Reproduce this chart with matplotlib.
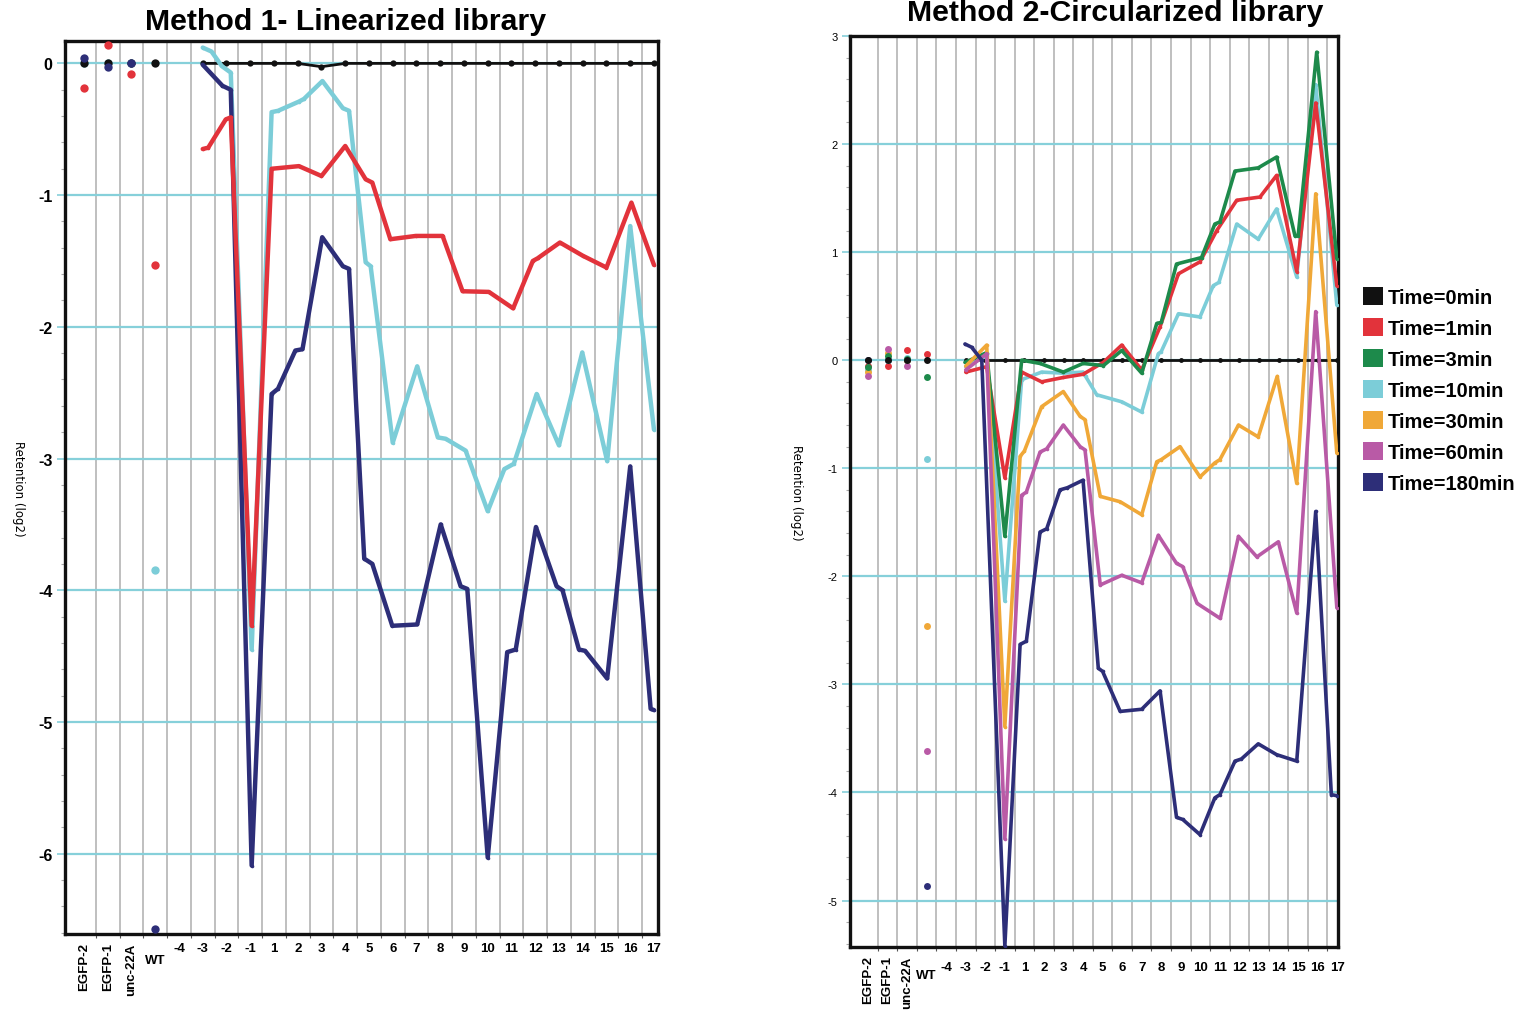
import matplotlib
matplotlib.use("Agg")
import matplotlib.pyplot as plt
from matplotlib.patches import Patch
from matplotlib.ticker import FixedLocator, MultipleLocator

plt.rcParams['font.family'] = ['Liberation Sans', 'DejaVu Sans']
plt.rcParams['axes.unicode_minus'] = False

# ---------------------------------------------------------------- categories
# x positions are category indices: 0-3 controls, 4..7 = sites -4..-1, 8..24 = sites 1..17
CATEGORIES = ['EGFP-2', 'EGFP-1', 'unc-22A', 'WT', '-4', '-3', '-2', '-1',
              '1', '2', '3', '4', '5', '6', '7', '8', '9', '10', '11', '12',
              '13', '14', '15', '16', '17']
CONTROL_X = [0, 1, 2, 3]
SITE_X = [5, 6, 7, 8, 9, 10, 11, 12, 13, 14, 15, 16, 17, 18, 19, 20, 21, 22, 23, 24]

SERIES = ['Time=0min', 'Time=1min', 'Time=3min', 'Time=10min',
          'Time=30min', 'Time=60min', 'Time=180min']
COLORS = ['#111111', '#e2333b', '#1d8a4b', '#7ccdd8', '#f0a838', '#b95aa6', '#2d2e78']

# ---------------------------------------------------------------- Method 1
m1_black_y = [0, 0, 0, 0, 0, -0.025, 0, 0, 0, 0, 0, 0, 0, 0, 0, 0, 0, 0, 0, 0]

m1_red_x = [5.0, 5.23, 5.97, 6.18, 7.06, 7.9, 9.05, 10.0, 11.0, 11.86, 12.14, 12.9,
            13.97, 15.1, 15.94, 17.05, 18.07, 18.9, 19.1, 20.04, 21.0, 22.0, 23.05, 24.0]
m1_red_y = [-0.65, -0.64, -0.425, -0.41, -4.27, -0.80, -0.78, -0.855, -0.627, -0.88,
            -0.905, -1.335, -1.31, -1.31, -1.73, -1.735, -1.86, -1.50, -1.48, -1.36,
            -1.46, -1.55, -1.057, -1.53]

m1_cyan_x = [5.0, 5.37, 5.8, 6.18, 7.06, 7.9, 8.17, 9.05, 9.26, 10.04, 10.9, 11.16,
             11.86, 12.07, 13.0, 14.03, 14.9, 15.23, 16.07, 17.0, 17.7, 18.1, 19.06,
             20.0, 20.98, 22.03, 23.0, 24.0]
m1_cyan_y = [0.12, 0.09, -0.02, -0.07, -4.45, -0.37, -0.36, -0.29, -0.27, -0.134,
             -0.34, -0.36, -1.51, -1.54, -2.88, -2.30, -2.84, -2.85, -2.94, -3.40,
             -3.08, -3.04, -2.51, -2.90, -2.195, -3.02, -1.235, -2.78]

m1_navy_x = [5.0, 5.83, 6.18, 7.06, 7.9, 8.17, 8.9, 9.2, 10.03, 10.9, 11.16, 11.8,
             12.14, 12.98, 14.03, 15.02, 15.86, 16.14, 17.0, 17.82, 18.18, 19.03, 19.9,
             20.15, 20.84, 21.1, 22.03, 23.0, 23.86, 24.0]
m1_navy_y = [-0.01, -0.17, -0.20, -6.09, -2.51, -2.47, -2.18, -2.17, -1.32, -1.54,
             -1.56, -3.76, -3.80, -4.27, -4.26, -3.50, -3.97, -3.99, -6.03, -4.47,
             -4.45, -3.52, -3.97, -4.00, -4.45, -4.46, -4.67, -3.06, -4.90, -4.91]

m1_ctrl_black = [0.0, 0.0, 0.0, 0.0]
m1_ctrl_red = [-0.19, 0.14, -0.08, -1.53]
m1_ctrl_cyan = [0.0, 0.0, 0.0, -3.85]
m1_ctrl_navy = [0.04, -0.03, 0.0, -6.57]

# ---------------------------------------------------------------- Method 2
m2_black_y = [0] * 20

m2_red_x = [5.0, 6.07, 7.0, 7.86, 8.88, 9.99, 11.0, 12.04, 12.98, 14.0, 14.94, 15.88,
            16.98, 17.84, 18.86, 20.05, 20.9, 21.93, 22.9, 23.98]
m2_red_y = [-0.11, -0.06, -1.09, -0.11, -0.20, -0.16, -0.13, -0.02, 0.14, -0.09, 0.31,
            0.80, 0.91, 1.20, 1.48, 1.51, 1.71, 0.82, 2.38, 0.69]

m2_green_x = [4.96, 6.07, 7.0, 7.86, 8.8, 9.99, 11.0, 12.04, 12.98, 14.0, 14.77, 15.0,
              15.78, 17.06, 17.74, 18.0, 18.77, 19.96, 20.9, 21.84, 22.0, 22.95, 23.98]
m2_green_y = [-0.02, 0.07, -1.63, 0.0, -0.03, -0.11, -0.03, -0.05, 0.09, -0.12, 0.34,
              0.35, 0.89, 0.95, 1.26, 1.28, 1.75, 1.78, 1.88, 1.15, 1.15, 2.85, 0.94]

m2_cyan_x = [5.0, 6.07, 7.0, 7.86, 8.88, 9.99, 11.0, 11.13, 11.7, 12.98, 14.0, 14.85,
             15.0, 15.88, 16.98, 17.66, 17.95, 18.86, 19.96, 20.9, 21.93, 22.9, 23.98]
m2_cyan_y = [-0.06, 0.04, -2.23, -0.18, -0.11, -0.12, -0.11, -0.15, -0.32, -0.385,
             -0.48, 0.06, 0.08, 0.43, 0.40, 0.69, 0.72, 1.26, 1.12, 1.40, 0.77, 2.55, 0.51]

m2_orange_x = [5.0, 6.07, 7.0, 7.78, 8.0, 8.88, 9.99, 10.85, 11.1, 11.88, 12.9, 14.0,
               14.77, 15.0, 15.96, 16.98, 17.74, 18.0, 18.95, 19.96, 20.93, 21.93,
               22.9, 23.98]
m2_orange_y = [-0.055, 0.14, -3.39, -0.89, -0.84, -0.43, -0.29, -0.52, -0.55, -1.26,
               -1.31, -1.43, -0.94, -0.92, -0.80, -1.08, -0.95, -0.92, -0.60, -0.71,
               -0.15, -1.14, 1.54, -0.86]

m2_purple_x = [5.0, 6.07, 7.0, 7.86, 8.1, 8.8, 9.14, 9.99, 10.85, 11.1, 11.88, 12.98,
               14.0, 14.85, 15.78, 16.1, 16.83, 18.02, 18.95, 19.89, 20.99, 21.93,
               22.9, 23.98]
m2_purple_y = [-0.09, 0.06, -4.43, -1.25, -1.22, -0.85, -0.82, -0.60, -0.80, -0.83,
               -2.08, -1.99, -2.06, -1.62, -1.88, -1.91, -2.25, -2.39, -1.63, -1.82,
               -1.68, -2.34, 0.45, -2.29]

m2_navy_x = [4.96, 5.3, 5.82, 7.0, 7.78, 8.1, 8.8, 9.14, 9.82, 10.2, 11.0, 11.78, 12.0,
             12.9, 14.0, 14.94, 15.78, 16.1, 16.98, 17.74, 18.0, 18.77, 19.1, 19.96,
             20.9, 21.93, 22.9, 23.7, 23.98]
m2_navy_y = [0.15, 0.12, 0.0, -5.42, -2.63, -2.60, -1.59, -1.56, -1.20, -1.18, -1.11,
             -2.85, -2.88, -3.25, -3.23, -3.06, -4.23, -4.25, -4.39, -4.05, -4.02,
             -3.71, -3.69, -3.55, -3.65, -3.71, -1.40, -4.02, -4.03]

m2_ctrl_black = [0.0, 0.0, 0.0, 0.0]
m2_ctrl_red = [-0.05, -0.05, 0.09, 0.055]
m2_ctrl_green = [-0.06, 0.04, 0.01, -0.16]
m2_ctrl_cyan = [-0.09, 0.0, 0.02, -0.91]
m2_ctrl_orange = [-0.11, 0.07, 0.0, -2.46]
m2_ctrl_purple = [-0.15, 0.10, -0.05, -3.62]
m2_ctrl_navy = [0.0, 0.0, 0.0, -4.87]

GRID_H = '#86d0da'
GRID_V = '#b4b4b4'

fig = plt.figure(figsize=(15.17, 10.12), dpi=100)
ax1 = fig.add_axes([65 / 1517, 1 - 935 / 1012, 593 / 1517, 893 / 1012])
ax2 = fig.add_axes([850 / 1517, 1 - 948 / 1012, 488 / 1517, 911 / 1012])


def style_axes(ax, xlim, ylim, yticks, ytick_size, ytick_weight, xtick_size,
               xpad, rot_shift, wt_drop, ylabel_x):
    ax.set_xlim(*xlim)
    ax.set_ylim(*ylim)
    # vertical separators between categories, horizontal cyan lines at integers
    ax.xaxis.set_minor_locator(FixedLocator([k + 0.5 for k in range(len(CATEGORIES) - 1)]))
    ax.grid(True, which='minor', axis='x', color=GRID_V, lw=1.2, zorder=0)
    ax.set_yticks(yticks)
    ax.set_yticklabels([str(v) for v in yticks], fontsize=ytick_size,
                       fontweight=ytick_weight)
    ax.yaxis.set_minor_locator(MultipleLocator(0.2))
    ax.grid(True, which='major', axis='y', color=GRID_H, lw=1.6, zorder=0)
    ax.set_axisbelow(True)
    ax.tick_params(axis='y', which='major', length=6, width=1.2, color=GRID_H, pad=3)
    ax.tick_params(axis='y', which='minor', length=3, width=0.8, color='#aaaaaa')
    ax.set_xticks(range(len(CATEGORIES)))
    ax.set_xticklabels(CATEGORIES, fontsize=xtick_size, fontweight='bold')
    ax.tick_params(axis='x', which='major', length=0, pad=xpad)
    ax.tick_params(axis='x', which='minor', length=3, width=0.8, color='#555555')
    labels = ax.get_xticklabels()
    for lab in labels[:3]:
        lab.set_rotation(90)
        lab.set_va('top')
        lab.set_y(rot_shift)
    labels[3].set_y(-wt_drop)
    for sp in ax.spines.values():
        sp.set_linewidth(2.4)
        sp.set_color('#111111')
    ax.set_ylabel('Retention (log2)', rotation=270, fontsize=8.5,
                  family=['DejaVu Sans'])
    ax.yaxis.label.set_va('center')
    ax.yaxis.set_label_coords(ylabel_x, 0.5)


style_axes(ax1, (-0.8, 24.17), (-6.61, 0.17), [0, -1, -2, -3, -4, -5, -6],
           11.5, 'bold', 9.5, 6, 0.0, 0.0134, -0.079)
style_axes(ax2, (-0.92, 24.04), (-5.43, 3.0), [3, 2, 1, 0, -1, -2, -3, -4, -5],
           8, 'normal', 9.5, 10, 0.006, 0.009, -0.109)


def draw_line(ax, x, y, color, lw, z, ms=2.6):
    ax.plot(x, y, color=color, lw=lw, marker='o', ms=ms, mew=0,
            solid_joinstyle='round', solid_capstyle='round', zorder=z, clip_on=True)


def draw_ctrl(ax, y, color, z, ms):
    ax.plot(CONTROL_X, y, linestyle='none', marker='o', ms=ms, mew=0,
            color=color, zorder=z, clip_on=False)


# Method 1 panel
draw_line(ax1, SITE_X, m1_black_y, COLORS[0], 2.0, 2.5, ms=4.5)
draw_line(ax1, m1_cyan_x, m1_cyan_y, COLORS[3], 3.2, 3)
draw_line(ax1, m1_navy_x, m1_navy_y, COLORS[6], 3.2, 4)
draw_line(ax1, m1_red_x, m1_red_y, COLORS[1], 3.2, 5)
draw_ctrl(ax1, m1_ctrl_cyan, COLORS[3], 3, 6)
draw_ctrl(ax1, m1_ctrl_black, COLORS[0], 4, 6)
draw_ctrl(ax1, m1_ctrl_red, COLORS[1], 5, 6)
draw_ctrl(ax1, m1_ctrl_navy, COLORS[6], 6, 6)

# Method 2 panel
draw_line(ax2, SITE_X, m2_black_y, COLORS[0], 2.0, 2.5, ms=3.5)
draw_line(ax2, m2_cyan_x, m2_cyan_y, COLORS[3], 2.6, 3)
draw_line(ax2, m2_red_x, m2_red_y, COLORS[1], 2.6, 4)
draw_line(ax2, m2_green_x, m2_green_y, COLORS[2], 2.6, 5)
draw_line(ax2, m2_orange_x, m2_orange_y, COLORS[4], 2.6, 6)
draw_line(ax2, m2_purple_x, m2_purple_y, COLORS[5], 2.6, 7)
draw_line(ax2, m2_navy_x, m2_navy_y, COLORS[6], 2.6, 8)
draw_ctrl(ax2, m2_ctrl_navy, COLORS[6], 3, 5)
draw_ctrl(ax2, m2_ctrl_red, COLORS[1], 4, 5)
draw_ctrl(ax2, m2_ctrl_cyan, COLORS[3], 4, 5)
draw_ctrl(ax2, m2_ctrl_orange, COLORS[4], 5, 5)
draw_ctrl(ax2, m2_ctrl_purple, COLORS[5], 5, 5)
draw_ctrl(ax2, m2_ctrl_green, COLORS[2], 6, 5)
draw_ctrl(ax2, m2_ctrl_black, COLORS[0], 7, 5)

fig.text(346 / 1517, 1 - 22 / 1012, 'Method 1- Linearized library', ha='center',
         va='center', fontsize=21.8, fontweight='bold')
fig.text(1115 / 1517, 1 - 13 / 1012, 'Method 2-Circularized library', ha='center',
         va='center', fontsize=21.8, fontweight='bold')

handles = [Patch(facecolor=c, edgecolor='none', label=s) for c, s in zip(COLORS, SERIES)]
fig.legend(handles=handles, loc='upper left', bbox_to_anchor=(1355 / 1517, 1 - 280 / 1012),
           frameon=False, prop={'size': 14.5, 'weight': 'bold'}, handlelength=1.0,
           handleheight=1.0, handletextpad=0.25, labelspacing=0.55, borderaxespad=0)

fig.savefig('out.png', dpi=100)
